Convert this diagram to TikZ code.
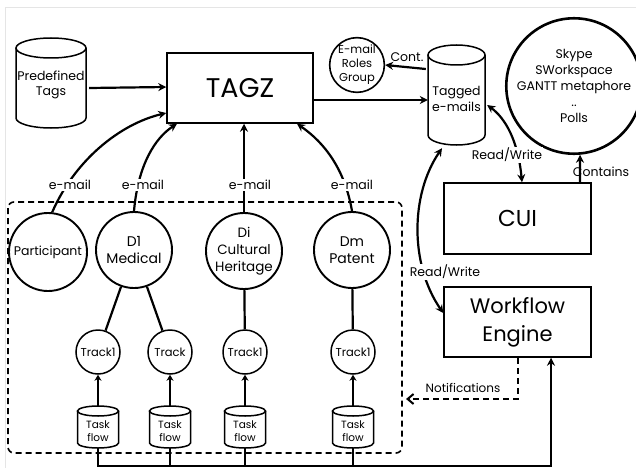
\documentclass[tikz,border=0pt]{standalone}
\usepackage{fontspec}
\setmainfont{Poppins}
\usetikzlibrary{arrows.meta}
\newcommand\mycyl[6]{% cx, ytop, ybot, hw, ry, style
  \draw[#6] (#1-#4,#2+#5) -- (#1-#4,#3-#5) arc[start angle=180,end angle=0,x radius=#4,y radius=#5] -- (#1+#4,#2+#5);
  \draw[#6] (#1,#2+#5) ellipse[x radius=#4,y radius=#5];}
\begin{document}
\begin{tikzpicture}[x=1pt,y=-1pt,
  box/.style={draw, line width=1.5pt},
  circ/.style={draw, circle, line width=1.9pt, inner sep=0pt, align=center},
  arr/.style={line width=2.2pt, -{Stealth[length=8pt,width=8pt]}},
  darr/.style={line width=2.2pt, {Stealth[length=8pt,width=8pt]}-{Stealth[length=8pt,width=8pt]}},
  conn/.style={line width=2.2pt},
  lab/.style={fill=white, inner sep=1pt, font=\fontsize{12.5}{14}\selectfont},
  txt/.style={align=center, font=\fontsize{12.5}{15}\selectfont, inner sep=0pt},
  stxt/.style={align=center, font=\fontsize{11.5}{14}\selectfont, inner sep=0pt}]
\useasboundingbox (0,0) rectangle (636,468);
\draw[gray!20, line width=0.8pt] (5,468) -- (5,7) -- (636,7);

% cylinders
\mycyl{51}{38}{128}{35}{10}{box}
\node[txt, minimum width=70pt, minimum height=90pt] (pre) at (51,85) {Predefined\\Tags};
\mycyl{456.5}{45}{145}{28.5}{10}{box}
\node[txt, font=\fontsize{12.5}{16}\selectfont, minimum width=57pt, minimum height=100pt] (tagged) at (456.5,99) {Tagged\\e-mails};

% boxes
\node[box, minimum width=146pt, minimum height=70pt, font=\fontsize{27}{28}\selectfont] (tagz) at (240,88) {TAGZ};
\node[box, minimum width=147pt, minimum height=71pt, font=\fontsize{23}{24}\selectfont] (cui) at (517.5,218.5) {CUI};
\node[box, minimum width=147pt, minimum height=70pt, align=center, font=\fontsize{21}{28}\selectfont] (wf) at (517.5,322) {Workflow\\Engine};

% circles
\node[circ, minimum size=54pt, stxt, line width=1.6pt] (erg) at (357,65) {E-mail\\Roles\\Group};
\node[circ, minimum size=128pt, line width=2.6pt, font=\fontsize{12.5}{16}\selectfont] (skype) at (574,86) {Skype\\SWorkspace\\GANTT metaphore\\..\\Polls};
\node[circ, minimum size=78pt, txt] (part) at (48,252) {Participant};
\node[circ, minimum size=76pt, txt, font=\fontsize{14}{17}\selectfont] (d1) at (134,250) {D1\\Medical};
\node[circ, minimum size=76pt, txt, font=\fontsize{13.5}{17}\selectfont] (di) at (244,251) {Di\\Cultural\\Heritage};
\node[circ, minimum size=76pt, txt, font=\fontsize{14}{17}\selectfont] (dm) at (352,250) {Dm\\Patent};

% dashed frame
\draw[line width=1.6pt, dash pattern=on 6pt off 4pt, rounded corners=6pt] (8,202) rectangle (402,453);

% tracks and task flows
\foreach \n/\x/\t in {1/98/Track1, 2/170/Track, 3/245/Track1, 4/353/Track1}{
  \node[circ, minimum size=44pt, stxt, line width=1.5pt] (t\n) at (\x,352) {\t};
  \mycyl{\x}{406}{448}{20.5}{5}{box}
  \node[stxt, font=\fontsize{10.5}{13.5}\selectfont, minimum width=41pt, minimum height=42pt] (tf\n) at (\x,431) {Task\\flow};
  \draw[conn, -{Stealth[length=6pt,width=7pt]}] ([yshift=4pt]tf\n.north) -- (t\n.south);
}

% domain to track
\draw[conn] (d1) -- (t1);
\draw[conn] (d1) -- (t2);
\draw[conn] (di) -- (t3);
\draw[conn] (dm) -- (t4);

% bus
\coordinate (busR) at (551,466);
\draw[arr] ([yshift=4pt]tf1.south) |- (busR) -- (wf.south -| busR);
\foreach \n in {2,3,4}{ \draw[conn] ([yshift=4pt]tf\n.south) -- (tf\n.south |- busR); }

% notifications
\coordinate (nt) at (406,399);
\draw[line width=2pt, dash pattern=on 6pt off 4pt, -{Straight Barb[length=6pt,width=10pt]}] (wf.south) |- (nt);
\node[lab, font=\fontsize{12}{14}\selectfont, fill=none] at (463,388) {Notifications};

% main arrows
\draw[arr] ([xshift=3pt,yshift=-3pt]pre.east) -- (tagz.west |- 0,87);
\draw[arr] ([yshift=-12pt]tagz.east) -- ([yshift=-1pt]tagged.west);
\draw[arr] ([yshift=30pt,xshift=-2pt]tagged.west) -- (erg.east);
\node[lab, fill=none] at (407,57) {Cont.};

\draw[arr] ([xshift=62.5pt]cui.north) -- (skype.-85);
\node[lab, fill=none] at (601,172) {Contains};

\draw[darr] ([xshift=2pt,yshift=-6pt]tagged.east) .. controls (505,118) and (518,140) .. ([xshift=4.5pt]cui.north);
\node[lab] at (507,155) {Read/Write};
\draw[darr] ([xshift=-14.5pt,yshift=1pt]tagged.south) .. controls (410,195) and (410,265) .. ([yshift=9pt]wf.west);
\node[lab] at (445,272) {Read/Write};

% e-mail arrows
\draw[arr] (part.84) .. controls (75,160) and (120,124) .. ([yshift=-25pt]tagz.west);
\draw[arr] (d1.north) .. controls (138,165) and (155,138) .. ([xshift=-63pt]tagz.south);
\draw[arr] (di.north) -- (di.north |- tagz.south);
\draw[arr] (dm.north) .. controls (345,170) and (325,143) .. ([xshift=57pt]tagz.south);
\node[lab] at (70,185) {e-mail};
\node[lab] at (143,185) {e-mail};
\node[lab] at (250,185) {e-mail};
\node[lab] at (352,185) {e-mail};
\end{tikzpicture}
\end{document}
